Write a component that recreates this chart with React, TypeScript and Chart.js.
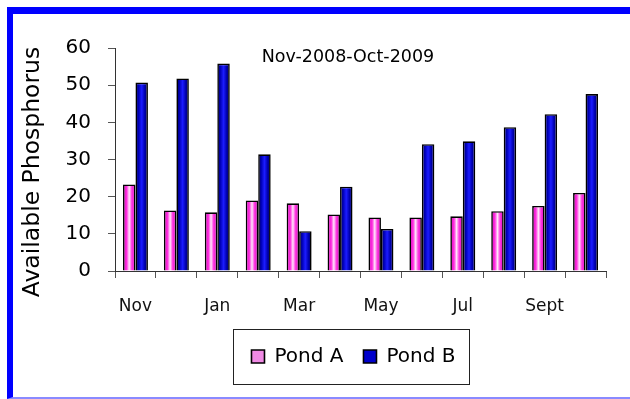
import React, { useEffect, useRef } from 'react';
import { Chart, registerables } from 'chart.js';

Chart.register(...registerables);

const months = ['Nov', 'Dec', 'Jan', 'Feb', 'Mar', 'Apr', 'May', 'Jun', 'Jul', 'Aug', 'Sept', 'Oct'];
const pondA = [23.3, 16.3, 15.8, 19.0, 18.2, 15.2, 14.4, 14.4, 14.7, 16.1, 17.5, 21.0];
const pondB = [50.7, 51.8, 55.8, 31.4, 10.7, 22.7, 11.3, 34.1, 34.9, 38.7, 42.2, 47.6];
const seriesNames = ['Pond A', 'Pond B'];
const yMin = 0;
const yMax = 60;
const yStep = 10;
const chartTitle = 'Nov-2008-Oct-2009';
const yTitle = 'Available Phosphorus';

const FONT = '"DejaVu Sans", "Liberation Sans", Arial, sans-serif';
const CAT_PCT = 0.61;

const pinkStops: [number, string][] = [
  [0, '#d800bc'],
  [0.3, '#ff30e0'],
  [0.5, '#ffe6fa'],
  [0.7, '#ff3ae2'],
  [1, '#d800bc'],
];
const blueStops: [number, string][] = [
  [0, '#00005a'],
  [0.25, '#0000b8'],
  [0.5, '#1c1cff'],
  [0.75, '#0000b0'],
  [1, '#00005a'],
];
const stopsByDataset = [pinkStops, blueStops];

const LEGEND_SHIFT = -7;

const overlayPlugin = {
  id: 'overlay',
  afterUpdate(chart: any) {
    const lg = chart.legend;
    if (!lg) return;
    lg.left += LEGEND_SHIFT;
    lg.right += LEGEND_SHIFT;
    if (lg.legendHitBoxes) lg.legendHitBoxes.forEach((h: any) => (h.left += LEGEND_SHIFT));
  },
  beforeDatasetsDraw(chart: any) {
    const c = chart.ctx;
    chart.data.datasets.forEach((_ds: any, di: number) => {
      const meta = chart.getDatasetMeta(di);
      const stops = stopsByDataset[di];
      meta.data.forEach((el: any) => {
        const { x, width } = el.getProps(['x', 'width'], true);
        const left = x - width / 2;
        const g = c.createLinearGradient(left, 0, left + width, 0);
        stops.forEach(([o, col]) => g.addColorStop(o, col));
        el.options = Object.assign({}, el.options, { backgroundColor: g });
      });
    });
  },
  afterDraw(chart: any) {
    const ctx = chart.ctx;
    const ca = chart.chartArea;
    ctx.save();
    ctx.fillStyle = '#000';
    ctx.textAlign = 'center';
    ctx.textBaseline = 'middle';
    ctx.font = `17.5px ${FONT}`;
    ctx.fillText(chartTitle, ca.left + (ca.right - ca.left) * 0.4745, ca.top + 9);

    ctx.save();
    ctx.translate(20, 158);
    ctx.rotate(-Math.PI / 2);
    ctx.font = `23.5px ${FONT}`;
    ctx.fillText(yTitle, 0, 0);
    ctx.restore();

    const lg = chart.legend;
    if (lg && lg.legendHitBoxes && lg.legendHitBoxes.length) {
      const hb = lg.legendHitBoxes;
      const x0 = Math.min(...hb.map((h: any) => h.left)) - 18;
      const x1 = Math.max(...hb.map((h: any) => h.left + h.width)) + 14;
      const cy = hb[0].top + hb[0].height / 2;
      ctx.strokeStyle = '#222';
      ctx.lineWidth = 1;
      ctx.strokeRect(Math.round(x0) + 0.5, Math.round(cy - 27.5) + 0.5, Math.round(x1 - x0), 55);
    }
    ctx.restore();
  },
};

export default function App() {
  const ref = useRef<HTMLCanvasElement | null>(null);

  useEffect(() => {
    if (!ref.current) return;
    const chart = new Chart(ref.current, {
      type: 'bar',
      data: {
        labels: months,
        datasets: [
          {
            label: seriesNames[0],
            data: pondA,
            backgroundColor: () => '#f08ae4',
            borderColor: '#000',
            borderWidth: 1.6,
            barPercentage: 1,
            categoryPercentage: CAT_PCT,
          },
          {
            label: seriesNames[1],
            data: pondB,
            backgroundColor: () => '#0000cc',
            borderColor: '#000',
            borderWidth: 1.6,
            barPercentage: 1,
            categoryPercentage: CAT_PCT,
          },
        ],
      },
      options: {
        responsive: false,
        animation: false,
        layout: { padding: { left: 4, right: 24, top: 34, bottom: 20.5 } },
        plugins: {
          title: { display: false },
          tooltip: { enabled: false },
          legend: {
            display: true,
            position: 'bottom',
            fullSize: false,
            labels: {
              boxWidth: 13,
              boxHeight: 13,
              padding: 20,
              color: '#000',
              font: { family: FONT, size: 20 },
            },
          },
        },
        scales: {
          x: {
            grid: {
              display: true,
              offset: true,
              drawOnChartArea: false,
              drawTicks: true,
              tickLength: 7,
              color: '#555',
            },
            border: { display: true, color: '#333', width: 1 },
            ticks: {
              autoSkip: false,
              maxRotation: 0,
              padding: 18,
              color: '#111',
              font: { family: FONT, size: 17 },
              callback: (_v: any, i: number) => (i % 2 === 0 ? months[i] : ''),
            },
            afterFit: (s: any) => {
              s.height = 55.5;
            },
          },
          y: {
            min: yMin,
            max: yMax,
            grid: {
              display: true,
              drawOnChartArea: false,
              drawTicks: true,
              tickLength: 7,
              color: '#555',
            },
            border: { display: true, color: '#333', width: 1 },
            ticks: {
              stepSize: yStep,
              padding: 17,
              color: '#000',
              font: { family: FONT, size: 20 },
            },
            title: { display: false },
            afterFit: (s: any) => {
              s.width = 98;
            },
          },
        },
      },
      plugins: [overlayPlugin],
    } as any);
    return () => chart.destroy();
  }, []);

  return (
    <div
      style={{
        position: 'absolute',
        left: 7,
        top: 7,
        width: 623,
        height: 392,
        boxSizing: 'border-box',
        borderTop: '7px solid #0000ff',
        borderLeft: '6px solid #0000ff',
        borderBottom: '2px solid #8a8aff',
        background: '#fff',
      }}
    >
      <canvas ref={ref} width={617} height={383} style={{ display: 'block', width: 617, height: 383 }} />
    </div>
  );
}
